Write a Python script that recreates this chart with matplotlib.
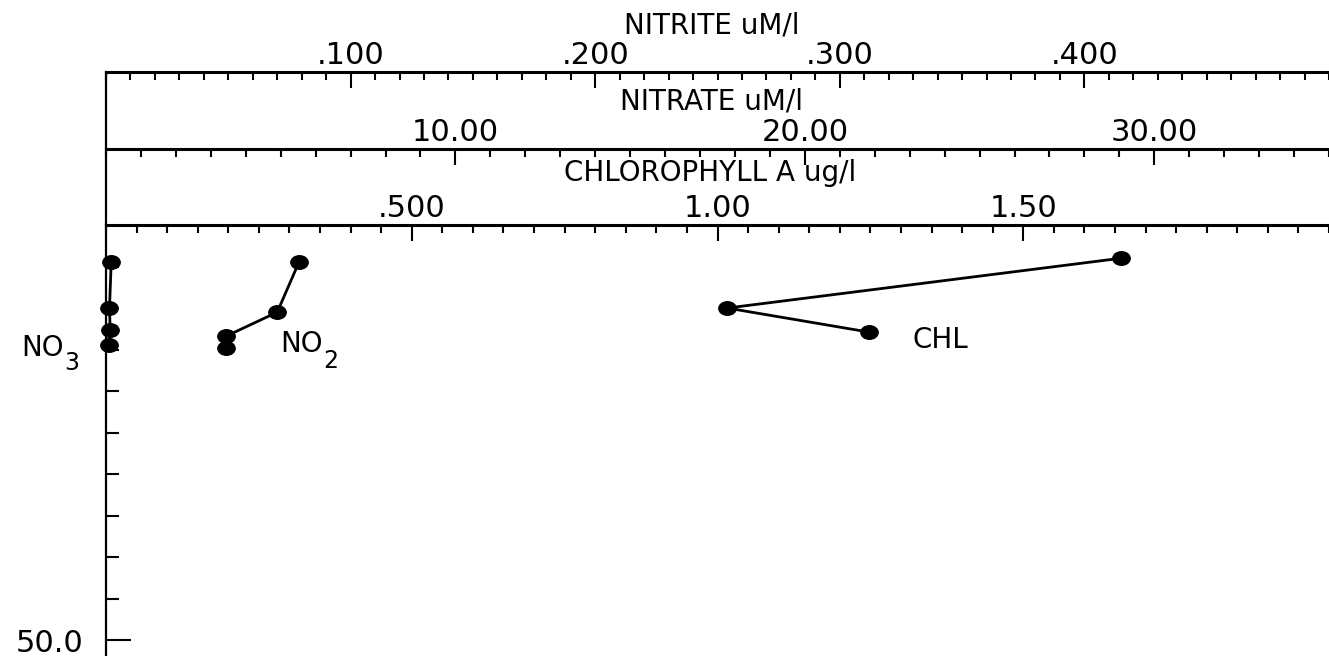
import matplotlib
matplotlib.use("Agg")
import matplotlib.pyplot as plt
from matplotlib.ticker import FixedLocator, MultipleLocator
from matplotlib.path import Path
from matplotlib.lines import Line2D

# ---- profile data (depth in m) ----
chl_depth = [4.0, 10.0, 12.9]
chl_value = [1.66, 1.016, 1.248]          # chlorophyll a, ug/l

no2_depth = [4.4, 10.5, 13.4, 14.8]
no2_value = [0.079, 0.070, 0.049, 0.049]  # nitrite, uM/l

no3_depth = [4.4, 10.0, 12.7, 14.5]
no3_value = [0.15, 0.10, 0.12, 0.10]      # nitrate, uM/l

# ---- axis scales and tick labels ----
depth_max = 51.9
depth_minor = [5, 10, 15, 20, 25, 30, 35, 40, 45]
depth_major = [50]
depth_labels = ["50.0"]

chl_range = (0, 2.0)
chl_ticks = [0.5, 1.0, 1.5]
chl_labels = [".500", "1.00", "1.50"]

nitrate_range = (0, 35)
nitrate_ticks = [10, 20, 30]
nitrate_labels = ["10.00", "20.00", "30.00"]

nitrite_range = (0, 0.5)
nitrite_ticks = [0.1, 0.2, 0.3, 0.4]
nitrite_labels = [".100", ".200", ".300", ".400"]

W, H = 1329, 656
fig = plt.figure(figsize=(W / 100, H / 100), dpi=100)

x0 = 106          # left axis, px
y_chl = 225       # chlorophyll axis line, px from top
y_no3 = 149
y_no2 = 72
plot_h = H - y_chl

ax = fig.add_axes([x0 / W, 0, 1 - x0 / W, plot_h / H])
ax_nitrate = ax.twiny()
ax_nitrite = ax.twiny()

spine_lw = 2.2
tick_kw = dict(direction="in", width=1.5, labelsize=22, pad=1.5)

def setup_top(a, xr, ticks, labels, minor, offset_px):
    a.set_xlim(*xr)
    a.set_ylim(depth_max, 0)
    for s in ("left", "right", "bottom"):
        a.spines[s].set_visible(False)
    a.spines["top"].set_linewidth(spine_lw)
    a.spines["top"].set_position(("axes", 1 + offset_px / plot_h))
    a.xaxis.set_ticks_position("top")
    a.set_xticks(ticks, labels)
    a.xaxis.set_minor_locator(MultipleLocator(minor))
    a.tick_params(axis="x", which="both", top=True, bottom=False,
                  labeltop=True, labelbottom=False, **tick_kw)
    a.tick_params(axis="x", which="major", length=11.5)
    a.tick_params(axis="x", which="minor", length=5.8)

setup_top(ax_nitrate, nitrate_range, nitrate_ticks, nitrate_labels, 1, y_chl - y_no3)
setup_top(ax_nitrite, nitrite_range, nitrite_ticks, nitrite_labels, 0.01, y_chl - y_no2)
setup_top(ax, chl_range, chl_ticks, chl_labels, 0.05, 0)

ax.spines["left"].set_visible(True)
ax.spines["left"].set_linewidth(1.6)
ax.yaxis.set_major_locator(FixedLocator(depth_major))
ax.set_yticklabels(depth_labels)
ax.yaxis.set_minor_locator(FixedLocator(depth_minor))
ax.tick_params(axis="y", which="both", direction="in", width=1.5,
               labelsize=22, pad=16)
ax.tick_params(axis="y", which="major", length=18)
ax.tick_params(axis="y", which="minor", length=9.4)

# left axis continues up through the stacked scales
fig.add_artist(Line2D([x0 / W, x0 / W], [1 - y_no2 / H, 1 - y_chl / H],
                      transform=fig.transFigure, color="black", lw=1.6))

# slightly flattened round marker
circ = Path.unit_circle()
blob = Path(circ.vertices * [1.0, 0.78], circ.codes)
mk = dict(marker=blob, markersize=12.5, color="black", lw=2.0, clip_on=False)

ax.plot(chl_value, chl_depth, **mk)
ax_nitrite.plot(no2_value, no2_depth, **mk)
ax_nitrate.plot(no3_value, no3_depth, **mk)

# scale titles
title_kw = dict(ha="center", va="baseline", fontsize=20)
fig.text(712 / W, 1 - 33 / H, "NITRITE uM/l", **title_kw)
fig.text(712 / W, 1 - 110 / H, "NITRATE uM/l", **title_kw)
fig.text(710 / W, 1 - 181 / H, "CHLOROPHYLL A ug/l", **title_kw)

# series labels
lab_font = ["Liberation Sans Narrow", "DejaVu Sans"]
def px(x, y):
    return x / W, 1 - y / H

fig.text(*px(21, 356), "NO", fontsize=20, family=lab_font, va="baseline")
fig.text(*px(64, 370), "3", fontsize=17, family=lab_font, va="baseline")
fig.text(*px(280, 352), "NO", fontsize=20, family=lab_font, va="baseline")
fig.text(*px(323, 368), "2", fontsize=17, family=lab_font, va="baseline")
fig.text(*px(912, 348), "CHL", fontsize=20, family=lab_font, va="baseline")

fig.savefig("out.png", dpi=100)
